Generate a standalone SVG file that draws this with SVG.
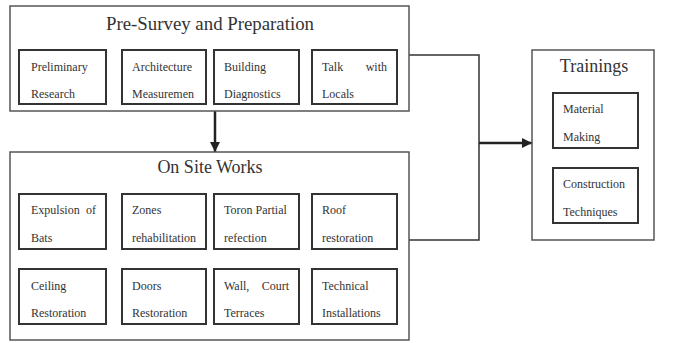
<svg xmlns="http://www.w3.org/2000/svg" width="674" height="343" viewBox="0 0 674 343">
<style>
.outer{fill:#fff;stroke:#555;stroke-width:1.5}
.inner{fill:#fff;stroke:#333;stroke-width:2}
.title{font-family:"Liberation Serif",serif;font-size:18px;fill:#333;text-anchor:middle}
.lbl{font-family:"Liberation Serif",serif;font-size:12px;fill:#333}
.end{text-anchor:end}
.conn{fill:none;stroke:#333;stroke-width:1.5}
.arr{fill:none;stroke:#222;stroke-width:2.5}
</style>
<defs>
<marker id="ah" viewBox="0 0 10 10" refX="10" refY="5" markerWidth="10" markerHeight="10" markerUnits="userSpaceOnUse" orient="auto">
<path d="M0,0 L10,5 L0,10 Z" fill="#222"/>
</marker>
</defs>
<rect width="674" height="343" fill="#fff"/>
<g id="connectors">
<line class="arr" x1="215" y1="111" x2="215" y2="152" marker-end="url(#ah)"/>
<polyline class="conn" points="409,55 479,55 479,240 409,240"/>
<line class="arr" x1="479" y1="143" x2="532" y2="143" marker-end="url(#ah)"/>
</g>
<g id="pre-survey">
<rect class="outer" x="10" y="6" width="399" height="105"/>
<text class="title" x="210" y="30" textLength="208" lengthAdjust="spacingAndGlyphs">Pre-Survey and Preparation</text>
</g>
<g id="preliminary-research">
<rect class="inner" x="19" y="50" width="87" height="54"/>
<text class="lbl" x="31" y="71">Preliminary</text>
<text class="lbl" x="31" y="98">Research</text>
</g>
<g id="architecture-measurement">
<rect class="inner" x="122" y="50" width="84" height="54"/>
<text class="lbl" x="132" y="71">Architecture</text>
<text class="lbl" x="132" y="98">Measuremen</text>
</g>
<g id="building-diagnostics">
<rect class="inner" x="214" y="50" width="85" height="54"/>
<text class="lbl" x="224" y="71">Building</text>
<text class="lbl" x="224" y="98">Diagnostics</text>
</g>
<g id="talk-with-locals">
<rect class="inner" x="312" y="50" width="85" height="54"/>
<text class="lbl" x="322" y="71">Talk</text>
<text class="lbl end" x="387" y="71">with</text>
<text class="lbl" x="322" y="98">Locals</text>
</g>
<g id="on-site-works">
<rect class="outer" x="10" y="152" width="399" height="188"/>
<text class="title" x="210" y="173">On Site Works</text>
</g>
<g id="expulsion-of-bats">
<rect class="inner" x="19" y="194" width="87" height="55"/>
<text class="lbl" x="31" y="214">Expulsion</text>
<text class="lbl end" x="96" y="214">of</text>
<text class="lbl" x="31" y="242">Bats</text>
</g>
<g id="zones-rehabilitation">
<rect class="inner" x="122" y="194" width="84" height="55"/>
<text class="lbl" x="132" y="214">Zones</text>
<text class="lbl" x="132" y="242">rehabilitation</text>
</g>
<g id="toron-partial-refection">
<rect class="inner" x="214" y="194" width="85" height="55"/>
<text class="lbl" x="224" y="214">Toron Partial</text>
<text class="lbl" x="224" y="242">refection</text>
</g>
<g id="roof-restoration">
<rect class="inner" x="312" y="194" width="85" height="55"/>
<text class="lbl" x="322" y="214">Roof</text>
<text class="lbl" x="322" y="242">restoration</text>
</g>
<g id="ceiling-restoration">
<rect class="inner" x="19" y="269" width="87" height="55"/>
<text class="lbl" x="31" y="290">Ceiling</text>
<text class="lbl" x="31" y="317">Restoration</text>
</g>
<g id="doors-restoration">
<rect class="inner" x="122" y="269" width="84" height="55"/>
<text class="lbl" x="132" y="290">Doors</text>
<text class="lbl" x="132" y="317">Restoration</text>
</g>
<g id="wall-court-terraces">
<rect class="inner" x="214" y="269" width="85" height="55"/>
<text class="lbl" x="224" y="290">Wall,</text>
<text class="lbl end" x="289" y="290">Court</text>
<text class="lbl" x="224" y="317">Terraces</text>
</g>
<g id="technical-installations">
<rect class="inner" x="312" y="269" width="85" height="55"/>
<text class="lbl" x="322" y="290">Technical</text>
<text class="lbl" x="322" y="317">Installations</text>
</g>
<g id="trainings">
<rect class="outer" x="532" y="50" width="122" height="190"/>
<text class="title" x="594" y="72">Trainings</text>
</g>
<g id="material-making">
<rect class="inner" x="553" y="93" width="85" height="55"/>
<text class="lbl" x="563" y="113">Material</text>
<text class="lbl" x="563" y="141">Making</text>
</g>
<g id="construction-techniques">
<rect class="inner" x="553" y="168" width="85" height="55"/>
<text class="lbl" x="563" y="188">Construction</text>
<text class="lbl" x="563" y="216">Techniques</text>
</g>
</svg>
